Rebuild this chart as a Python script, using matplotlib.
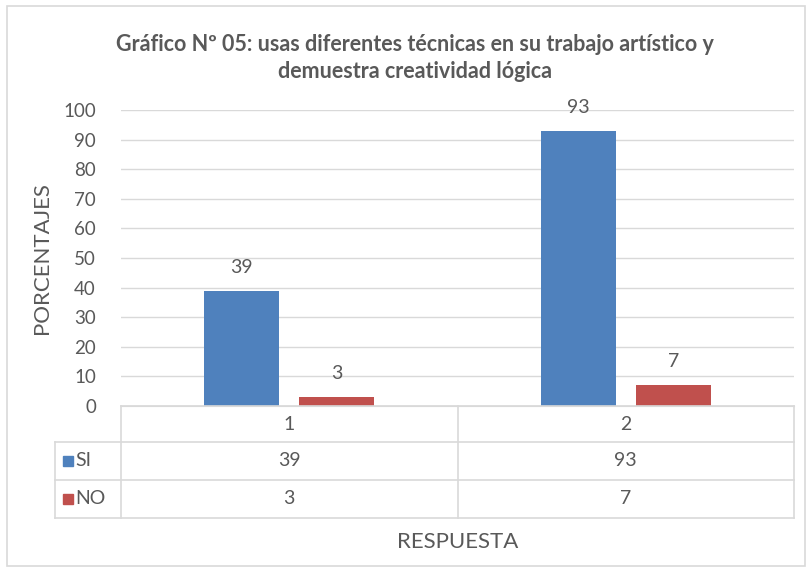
import matplotlib.pyplot as plt
from matplotlib.patches import Rectangle
from matplotlib.lines import Line2D

categorias = ['1', '2']
series = ['SI', 'NO']
si = [39, 93]
no = [3, 7]
colores = ['#4F81BD', '#C0504D']

W, H = 811, 572
plt.rcParams['font.family'] = ['Lato', 'DejaVu Sans']
gris = '#595959'
linea = '#D9D9D9'

fig = plt.figure(figsize=(W / 100, H / 100), dpi=100)

def fx(px):
    return px / W

def fy(py):
    return 1 - py / H

# plot area in pixels
x0, x1, y0, y1 = 121, 794, 406, 110
ax = fig.add_axes([fx(x0), fy(y0), fx(x1) - fx(x0), fy(y1) - fy(y0)])

pos = range(len(categorias))
ancho = 0.223
off = 0.141
for k, (vals, c) in enumerate(zip([si, no], colores)):
    xs = [p + (off if k else -off) for p in pos]
    ax.bar(xs, vals, width=ancho, color=c, zorder=3)
    for x, v in zip(xs, vals):
        ax.text(x, v + 5, str(v), ha='center', va='bottom', fontsize=14, color=gris)

ax.set_xlim(-0.5, len(categorias) - 0.5)
ax.set_ylim(0, 100)
ax.set_yticks(range(0, 101, 10))
ax.tick_params(axis='y', length=0, labelsize=13.5, labelcolor=gris, pad=18)
ax.set_xticks([])
ax.grid(axis='y', color=linea, linewidth=1, zorder=0)
for s in ['top', 'right', 'left']:
    ax.spines[s].set_visible(False)
ax.spines['bottom'].set_color(linea)
ax.set_ylabel('PORCENTAJES', fontsize=16, color=gris, labelpad=8)

# data table under the axis
filas = [406, 442, 480, 518]
xl = 55
cols = [x0, (x0 + x1) / 2, x1]
def hline(y, xa, xb):
    fig.add_artist(Line2D([fx(xa), fx(xb)], [fy(y), fy(y)], color=linea, lw=1.2))
def vline(x, ya, yb):
    fig.add_artist(Line2D([fx(x), fx(x)], [fy(ya), fy(yb)], color=linea, lw=1.2))

hline(filas[0], x0, x1)
for y in filas[1:]:
    hline(y, xl, x1)
for x in cols:
    vline(x, filas[0], filas[3])
vline(xl, filas[1], filas[3])

for i, cat in enumerate(categorias):
    cx = (cols[i] + cols[i + 1]) / 2
    fig.text(fx(cx), fy((filas[0] + filas[1]) / 2), cat, ha='center', va='center', fontsize=14, color=gris)
    for r, vals in enumerate([si, no]):
        fig.text(fx(cx), fy((filas[r + 1] + filas[r + 2]) / 2), str(vals[i]),
                 ha='center', va='center', fontsize=14, color=gris)

for r, (nombre, c) in enumerate(zip(series, colores)):
    cy = (filas[r + 1] + filas[r + 2]) / 2
    fig.add_artist(Rectangle((fx(63), fy(cy + 5)), fx(10), 10 / H, color=c))
    fig.text(fx(75), fy(cy), nombre, ha='left', va='center', fontsize=14, color=gris)

fig.text(fx((x0 + x1) / 2), fy(542), 'RESPUESTA', ha='center', va='center', fontsize=16, color=gris)

fig.text(fx(415), fy(58), 'Gráfico Nº 05: usas diferentes técnicas en su trabajo artístico y\ndemuestra creatividad lógica',
         ha='center', va='center', fontsize=15.5, fontweight='bold', color=gris, linespacing=1.3)

# outer chart border
fig.add_artist(Rectangle((fx(7), fy(566)), fx(798), 560 / H, fill=False, edgecolor=linea, lw=1.2))

fig.savefig('out.png', dpi=100)
